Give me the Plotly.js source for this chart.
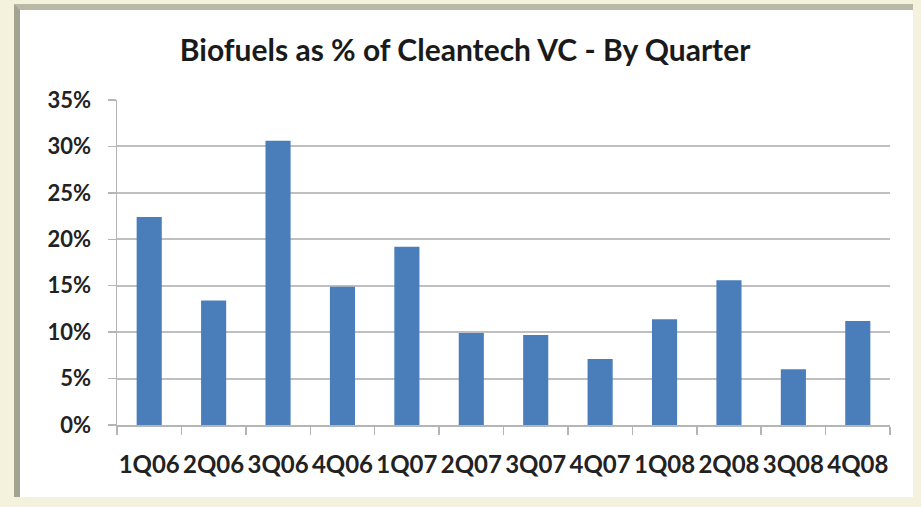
<!DOCTYPE html>
<html>
<head>
<meta charset="utf-8">
<script src="https://cdn.plot.ly/plotly-3.0.1.min.js"></script>
<style>
  html, body { margin: 0; padding: 0; width: 921px; height: 507px; overflow: hidden; background: #f4f2dc; }
  #frame { position: absolute; left: 14px; top: 4px; width: 899px; height: 493px; background: #ffffff;
           border-left: 6px solid #a3a392; border-top: 6px solid #b9b9a6; box-sizing: border-box; }
  #chart { position: absolute; left: 0; top: 0; width: 921px; height: 507px; }
</style>
</head>
<body>
<div id="frame"></div>
<div id="chart"></div>
<script>
const quarters = ["1Q06","2Q06","3Q06","4Q06","1Q07","2Q07","3Q07","4Q07","1Q08","2Q08","3Q08","4Q08"];
const biofuelShare = [0.224, 0.134, 0.306, 0.149, 0.192, 0.099, 0.097, 0.071, 0.114, 0.156, 0.060, 0.112];
const yTickVals = [0, 0.05, 0.10, 0.15, 0.20, 0.25, 0.30, 0.35];
const chartTitle = "Biofuels as % of Cleantech VC - By Quarter";

const FONT = "Lato, 'Open Sans', sans-serif";

Plotly.newPlot("chart", [{
  type: "bar",
  x: quarters,
  y: biofuelShare,
  marker: { color: "#4a7ebb", line: { width: 0 } },
  hoverinfo: "x+y"
}], {
  width: 921,
  height: 507,
  margin: { l: 117, r: 31, t: 100, b: 82 },
  paper_bgcolor: "rgba(0,0,0,0)",
  plot_bgcolor: "rgba(0,0,0,0)",
  bargap: 0.61,
  showlegend: false,
  title: {
    text: chartTitle,
    font: { family: FONT, size: 30, color: "#1a1a1a", weight: "bold" },
    x: 0.505, xref: "container", xanchor: "center",
    y: 0.9, yref: "container", yanchor: "middle"
  },
  xaxis: {
    type: "category",
    tickangle: 0,
    showline: true, linecolor: "#b5b5b5", linewidth: 1.5,
    ticks: "outside", tickson: "boundaries", ticklen: 8, tickcolor: "#b5b5b5", tickwidth: 1.5,
    ticklabelstandoff: 18,
    tickfont: { family: FONT, size: 24, color: "#222222", weight: "bold" },
    showgrid: false
  },
  yaxis: {
    range: [0, 0.35],
    tickvals: yTickVals,
    tickformat: ".0%",
    showline: true, linecolor: "#b5b5b5", linewidth: 1.5,
    ticks: "outside", ticklen: 8, tickcolor: "#b5b5b5", tickwidth: 1.5,
    ticklabelstandoff: 12,
    showgrid: true, gridcolor: "#bfbfbf", gridwidth: 2,
    zeroline: false,
    tickfont: { family: FONT, size: 22, color: "#222222", weight: "bold" }
  }
}, { displayModeBar: false, staticPlot: true });
</script>
</body>
</html>
